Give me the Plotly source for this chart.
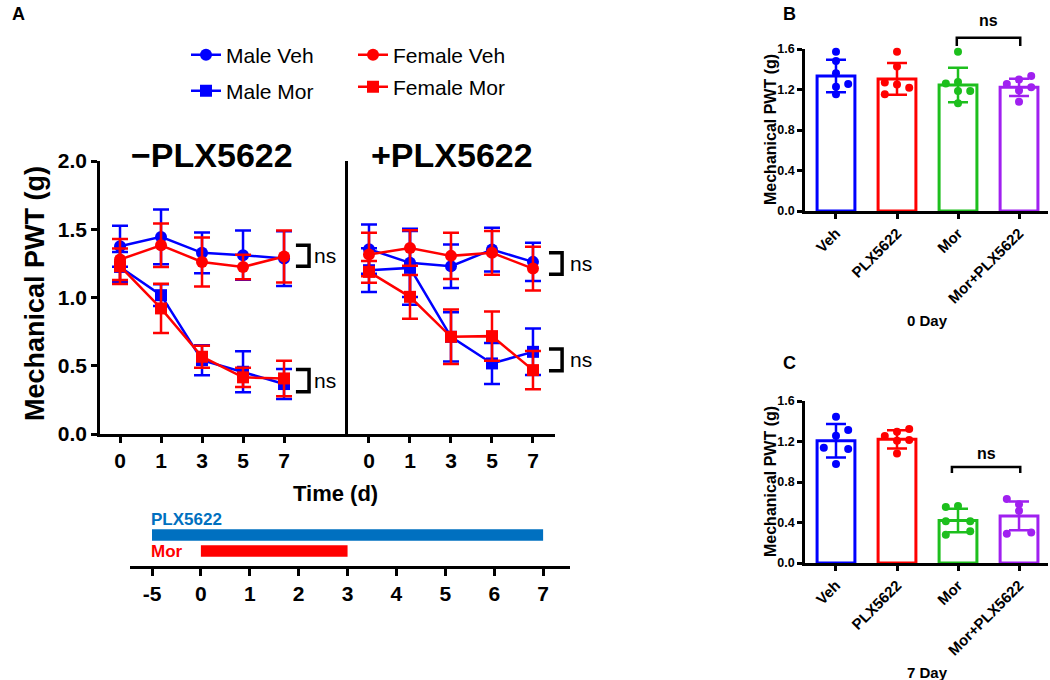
import plotly.graph_objects as go

# ---------------- data ----------------
days = ["0", "1", "3", "5", "7"]

# -PLX5622 panel (mean, SD)
noplx_male_veh = [1.376, 1.444, 1.327, 1.310, 1.285]
noplx_male_veh_sd = [0.15, 0.20, 0.15, 0.18, 0.20]
noplx_female_veh = [1.278, 1.383, 1.260, 1.224, 1.300]
noplx_female_veh_sd = [0.15, 0.16, 0.18, 0.09, 0.19]
noplx_male_mor = [1.224, 1.017, 0.541, 0.456, 0.366]
noplx_male_mor_sd = [0.11, 0.08, 0.11, 0.15, 0.11]
noplx_female_mor = [1.229, 0.920, 0.566, 0.415, 0.407]
noplx_female_mor_sd = [0.13, 0.18, 0.08, 0.07, 0.13]

# +PLX5622 panel (mean, SD)
plx_male_veh = [1.354, 1.254, 1.229, 1.351, 1.261]
plx_male_veh_sd = [0.18, 0.25, 0.16, 0.16, 0.14]
plx_female_veh = [1.315, 1.363, 1.305, 1.327, 1.212]
plx_female_veh_sd = [0.16, 0.13, 0.17, 0.16, 0.16]
plx_male_mor = [1.200, 1.217, 0.712, 0.517, 0.602]
plx_male_mor_sd = [0.16, 0.27, 0.18, 0.15, 0.17]
plx_female_mor = [1.188, 1.005, 0.712, 0.717, 0.468]
plx_female_mor_sd = [0.08, 0.16, 0.20, 0.18, 0.14]

# timeline
timeline_days = [-5, 0, 1, 2, 3, 4, 5, 6, 7]
treatments = ["PLX5622", "Mor"]
treat_start = [-5, 0]
treat_end = [7, 3]

# bar panels
groups = ["Veh", "PLX5622", "Mor", "Mor+PLX5622"]
day0_mean = [1.333, 1.304, 1.244, 1.221]
day0_sd = [0.160, 0.157, 0.170, 0.085]
day0_points = [
    [1.574, 1.481, 1.360, 1.254, 1.228, 1.152],
    [1.574, 1.426, 1.270, 1.250, 1.218, 1.152],
    [1.574, 1.260, 1.274, 1.185, 1.185, 1.063],
    [1.333, 1.300, 1.254, 1.222, 1.190, 1.080],
]
day7_mean = [1.207, 1.221, 0.420, 0.465]
day7_sd = [0.165, 0.090, 0.117, 0.142]
day7_points = [
    [1.445, 1.313, 1.257, 1.138, 1.125, 0.977],
    [1.323, 1.297, 1.254, 1.214, 1.207, 1.082],
    [0.564, 0.554, 0.412, 0.412, 0.313, 0.280],
    [0.633, 0.581, 0.515, 0.300, 0.290],
]

# ---------------- styling / layout helpers ----------------
W, H = 1050, 680
FONT = "Liberation Sans, Arial, sans-serif"
BLUE, RED = "#0000FF", "#FF0000"
GROUP_COLORS = ["#0000FF", "#FF0000", "#1DBF1D", "#A020F0"]
JITTER0 = [[0, 0, 0, 1, 0, 0], [0, 0, -1, 0, 1, -1], [0, -1, 0, 0, 1, 0], [1, 0, -1, 1, 0, 0]]
JITTER7 = [[0, 1, 0, -1, 1, 0], [1, 0, -1, 1, 0, 0], [0, -1, -1, 1, 1, -1], [-1, 0, 0, 1, -1]]
JSTEP = 0.2


def px(x):
    return x / W


def py(y):
    return 1 - y / H


# axis geometry (domains in paper coords, ranges in data coords)
XA1_DOM, XA1_RNG = [px(100), px(348)], [-0.488, 5.56]
XA2_DOM, XA2_RNG = [px(348), px(555)], [-0.512, 4.537]
YA_DOM, YA_RNG = [py(434), py(161)], [0, 2]
XT_DOM, XT_RNG = [px(130), px(570)], [-0.45, 8.55]
YT_DOM = [py(566), py(505)]
XB_DOM, XB_RNG = [px(805), px(1048)], [-0.508, 3.475]
YB_DOM, YC_DOM = [py(211), py(49)], [py(563), py(401)]
YBC_RNG = [0, 1.6]


def to_paper(v, dom, rng):
    return dom[0] + (v - rng[0]) / (rng[1] - rng[0]) * (dom[1] - dom[0])


fig = go.Figure()

xpos = list(range(len(days)))


def add_series(xa, ya, y, sd, color, symbol, name, legend=None):
    fig.add_trace(go.Scatter(
        x=xpos, y=y, mode="lines+markers", name=name,
        xaxis=xa, yaxis=ya, cliponaxis=False,
        line=dict(color=color, width=2.5),
        marker=dict(color=color, symbol=symbol, size=12),
        error_y=dict(type="data", array=sd, color=color, thickness=2.5, width=8),
        showlegend=legend is not None, legend=legend or "legend",
    ))


# left panel (-PLX5622)
add_series("x", "y", noplx_male_veh, noplx_male_veh_sd, BLUE, "circle", "Male Veh", "legend")
add_series("x", "y", noplx_male_mor, noplx_male_mor_sd, BLUE, "square", "Male Mor", "legend2")
add_series("x", "y", noplx_female_veh, noplx_female_veh_sd, RED, "circle", "Female Veh", "legend3")
add_series("x", "y", noplx_female_mor, noplx_female_mor_sd, RED, "square", "Female Mor", "legend4")
# right panel (+PLX5622)
add_series("x2", "y2", plx_male_veh, plx_male_veh_sd, BLUE, "circle", "Male Veh")
add_series("x2", "y2", plx_male_mor, plx_male_mor_sd, BLUE, "square", "Male Mor")
add_series("x2", "y2", plx_female_veh, plx_female_veh_sd, RED, "circle", "Female Veh")
add_series("x2", "y2", plx_female_mor, plx_female_mor_sd, RED, "square", "Female Mor")

# timeline bars
TL_COLORS = ["#0070C0", "#FF0000"]
TL_Y = [0.508, 0.246]
for name, s, e, c, yy in zip(treatments, treat_start, treat_end, TL_COLORS, TL_Y):
    s_i, e_i = timeline_days.index(s), timeline_days.index(e)
    fig.add_trace(go.Bar(
        x=[e_i - s_i], base=[s_i], y=[yy], orientation="h", width=0.185,
        marker=dict(color=c, line=dict(width=0)), xaxis="x3", yaxis="y3",
        showlegend=False, name=name,
    ))


def add_bar_panel(xa, ya, means, sds, pts, jit):
    for i, (m, s, p, j, c) in enumerate(zip(means, sds, pts, jit, GROUP_COLORS)):
        fig.add_trace(go.Bar(
            x=[i], y=[m], width=0.62, xaxis=xa, yaxis=ya, showlegend=False,
            marker=dict(color="rgba(255,255,255,0)", line=dict(color=c, width=3)),
            error_y=dict(type="data", array=[s], color=c, thickness=2.5, width=10),
            name=groups[i], cliponaxis=False,
        ))
        fig.add_trace(go.Scatter(
            x=[i + JSTEP * k for k in j], y=p, mode="markers", xaxis=xa, yaxis=ya,
            marker=dict(color=c, size=8), showlegend=False, name=groups[i],
            cliponaxis=False,
        ))


add_bar_panel("x4", "y4", day0_mean, day0_sd, day0_points, JITTER0)
add_bar_panel("x5", "y5", day7_mean, day7_sd, day7_points, JITTER7)

# ---------------- axes ----------------
axis_common = dict(showgrid=False, zeroline=False, showline=True, linecolor="black",
                   linewidth=2.5, ticks="outside", tickcolor="black", tickwidth=2.5,
                   fixedrange=True, automargin=False)
tickA = dict(family=FONT, size=21, color="black", weight="bold")
tickB = dict(family=FONT, size=12.5, color="black", weight="bold")
tickBx = dict(family=FONT, size=15, color="black", weight="bold")

fig.update_layout(
    xaxis=dict(**axis_common, domain=XA1_DOM, range=XA1_RNG, anchor="y",
               tickvals=xpos, ticktext=days, ticklen=6, tickfont=tickA),
    yaxis=dict(**axis_common, domain=YA_DOM, range=YA_RNG, anchor="x",
               tickvals=[0, 0.5, 1.0, 1.5, 2.0], tickformat=".1f", ticklen=6, tickfont=tickA),
    xaxis2=dict(**axis_common, domain=XA2_DOM, range=XA2_RNG, anchor="y2",
                tickvals=xpos, ticktext=days, ticklen=6, tickfont=tickA),
    yaxis2=dict(showgrid=False, zeroline=False, showline=True, linecolor="black", linewidth=2.5,
                domain=YA_DOM, range=YA_RNG, anchor="x2", showticklabels=False, ticks="",
                fixedrange=True),
    xaxis3=dict(**axis_common, domain=XT_DOM, range=XT_RNG, anchor="y3",
                tickvals=list(range(len(timeline_days))),
                ticktext=[str(d) for d in timeline_days], ticklen=7, tickfont=tickA),
    yaxis3=dict(domain=YT_DOM, range=[0, 1], anchor="x3", visible=False, fixedrange=True),
    xaxis4=dict(**axis_common, domain=XB_DOM, range=XB_RNG, anchor="y4",
                tickvals=list(range(4)), ticktext=groups, tickangle=-45, ticklen=5, tickfont=tickBx),
    yaxis4=dict(**axis_common, domain=YB_DOM, range=YBC_RNG, anchor="x4",
                tickvals=[0, 0.4, 0.8, 1.2, 1.6], tickformat=".1f", ticklen=5, tickfont=tickB),
    xaxis5=dict(**axis_common, domain=XB_DOM, range=XB_RNG, anchor="y5",
                tickvals=list(range(4)), ticktext=groups, tickangle=-45, ticklen=5, tickfont=tickBx),
    yaxis5=dict(**axis_common, domain=YC_DOM, range=YBC_RNG, anchor="x5",
                tickvals=[0, 0.4, 0.8, 1.2, 1.6], tickformat=".1f", ticklen=5, tickfont=tickB),
)

# legends (one per entry, arranged 2x2)
leg_common = dict(font=dict(family=FONT, size=21, color="black"), bgcolor="rgba(0,0,0,0)",
                  xanchor="left", yanchor="middle", itemclick=False, itemdoubleclick=False)
fig.update_layout(
    legend=dict(**leg_common, x=px(186), y=py(55)),
    legend2=dict(**leg_common, x=px(186), y=py(91)),
    legend3=dict(**leg_common, x=px(353), y=py(55)),
    legend4=dict(**leg_common, x=px(353), y=py(87)),
)

# ---------------- annotations ----------------
ann = []
shapes = []


def text(x, y, t, size, bold=True, color="black", xanchor="center", angle=0):
    ann.append(dict(x=x, y=y, xref="paper", yref="paper", text=t, showarrow=False,
                    xanchor=xanchor, yanchor="middle", textangle=angle,
                    font=dict(family=FONT, size=size, color=color,
                              weight="bold" if bold else "normal")))


text(px(18), py(14), "A", 18)
text(px(789), py(14), "B", 18)
text(px(789), py(363), "C", 18)
text(px(212), py(155), "\u2212PLX5622", 34)
text(px(452), py(155), "+PLX5622", 34)
text(px(35), py(294), "Mechanical PWT (g)", 27, angle=-90)
text(px(335), py(493), "Time (d)", 22)
text(px(149), py(519), "PLX5622", 17, color="#0070C0", xanchor="left")
text(px(149), py(551), "Mor", 17, color="#FF0000", xanchor="left")
text(px(770), py(130), "Mechanical PWT (g)", 16, angle=-90)
text(px(770), py(482), "Mechanical PWT (g)", 16, angle=-90)
text(px(927), py(320), "0 Day", 15)
text(px(927), py(672), "7 Day", 15)


def bracket_v(xdata0, xdata1, y0, y1, xdom, xrng, ydom, yrng, label_dx):
    """Right-facing ] bracket between two values, with 'ns'."""
    xa = to_paper(xdata0, xdom, xrng)
    xb = to_paper(xdata1, xdom, xrng)
    ya = to_paper(y0, ydom, yrng)
    yb = to_paper(y1, ydom, yrng)
    shapes.append(dict(type="path", xref="paper", yref="paper",
                       path=f"M{xa},{yb} L{xb},{yb} L{xb},{ya} L{xa},{ya}",
                       line=dict(color="black", width=3.5)))
    text(xb + label_dx, (ya + yb) / 2, "ns", 21, bold=False, xanchor="left")


# A brackets (x in category-position units, y in g)
bracket_v(4.29, 4.61, 1.229, 1.383, XA1_DOM, XA1_RNG, YA_DOM, YA_RNG, px(3))
bracket_v(4.29, 4.61, 0.310, 0.473, XA1_DOM, XA1_RNG, YA_DOM, YA_RNG, px(3))
bracket_v(4.39, 4.71, 1.171, 1.327, XA2_DOM, XA2_RNG, YA_DOM, YA_RNG, px(6))
bracket_v(4.39, 4.71, 0.463, 0.622, XA2_DOM, XA2_RNG, YA_DOM, YA_RNG, px(6))


def bracket_h(x0, x1, ylow, yhigh, ydom, ylabel):
    xa = to_paper(x0, XB_DOM, XB_RNG)
    xb = to_paper(x1, XB_DOM, XB_RNG)
    ya = to_paper(ylow, ydom, YBC_RNG)
    yb = to_paper(yhigh, ydom, YBC_RNG)
    shapes.append(dict(type="path", xref="paper", yref="paper",
                       path=f"M{xa},{ya} L{xa},{yb} L{xb},{yb} L{xb},{ya}",
                       line=dict(color="black", width=2.5)))
    text((xa + xb) / 2, to_paper(ylabel, ydom, YBC_RNG), "ns", 16)


bracket_h(1.98, 3.02, 1.63, 1.71, YB_DOM, 1.886)
bracket_h(1.90, 3.02, 0.889, 0.948, YC_DOM, 1.086)

fig.update_layout(
    annotations=ann, shapes=shapes, barmode="overlay",
    width=W, height=H, margin=dict(l=0, r=0, t=0, b=0, pad=0, autoexpand=False),
    paper_bgcolor="white", plot_bgcolor="white",
    font=dict(family=FONT, color="black"),
)

fig.write_html("out.html", config={"displayModeBar": False},
               post_script="document.body.style.margin='0';document.body.style.overflow='hidden';")
